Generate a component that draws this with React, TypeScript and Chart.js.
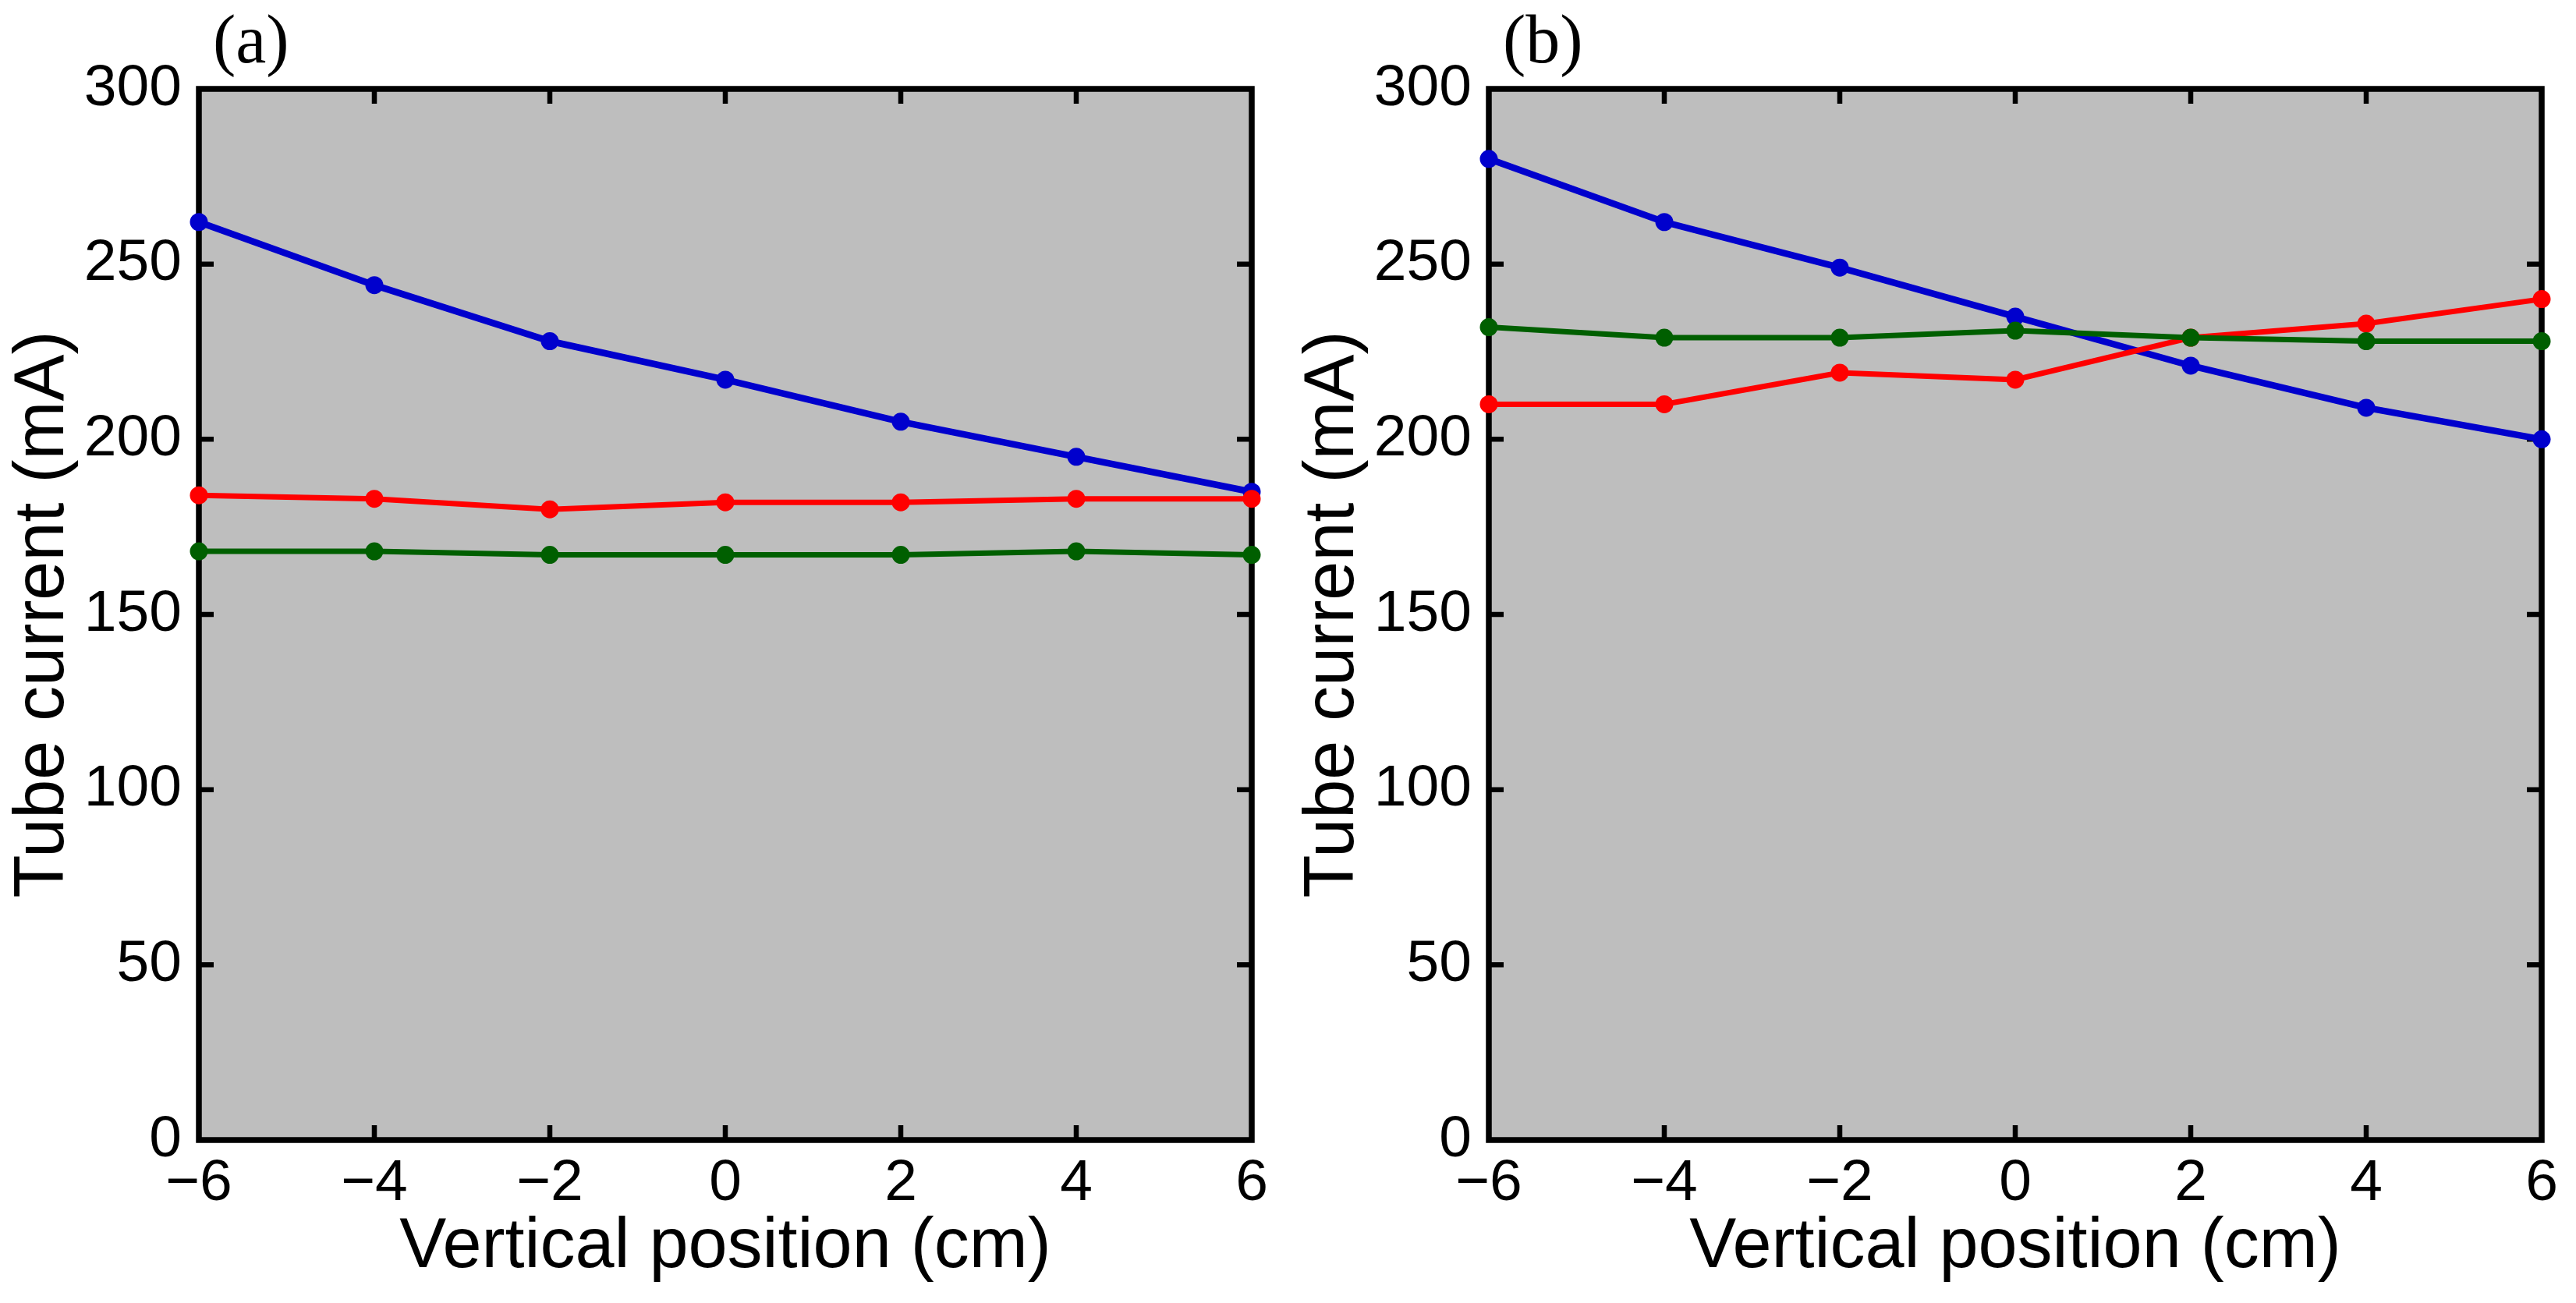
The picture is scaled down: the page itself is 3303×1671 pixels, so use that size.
import React, { useEffect, useRef } from "react";
import { Chart, registerables } from "chart.js";

Chart.register(...registerables);

// vertical position (cm)
const positions = [-6, -4, -2, 0, 2, 4, 6];

// panel (a)
const blueA = [262, 244, 228, 217, 205, 195, 185];
const redA = [184, 183, 180, 182, 182, 183, 183];
const greenA = [168, 168, 167, 167, 167, 168, 167];

// panel (b)
const blueB = [280, 262, 249, 235, 221, 209, 200];
const redB = [210, 210, 219, 217, 229, 233, 240];
const greenB = [232, 229, 229, 231, 229, 228, 228];

const X_MIN = -6;
const X_MAX = 6;
const Y_MIN = 0;
const Y_MAX = 300;

const SANS = "'Liberation Sans', Arial, sans-serif";
const SERIF = "'Liberation Serif', 'Times New Roman', serif";

const BLUE = "#0000cd";
const RED = "#ff0000";
const GREEN = "#005f00";

const CANVAS_W = 1650;
const CANVAS_H = 1671;

const framePlugin = {
  id: "frame",
  beforeDatasetsDraw(chart: any, _args: any, opts: any) {
    const { ctx, chartArea: a, scales } = chart;
    const w = a.right - a.left;
    const h = a.bottom - a.top;
    ctx.save();
    ctx.fillStyle = "#bebebe";
    ctx.fillRect(a.left, a.top, w, h);

    // inward ticks on all four sides
    const tl = 19;
    ctx.strokeStyle = "#000";
    ctx.lineWidth = 6.5;
    ctx.lineCap = "butt";
    ctx.beginPath();
    scales.x.ticks.forEach((t: any) => {
      if (t.value <= X_MIN || t.value >= X_MAX) return;
      const px = scales.x.getPixelForValue(t.value);
      ctx.moveTo(px, a.bottom);
      ctx.lineTo(px, a.bottom - tl);
      ctx.moveTo(px, a.top);
      ctx.lineTo(px, a.top + tl);
    });
    scales.y.ticks.forEach((t: any) => {
      if (t.value <= Y_MIN || t.value >= Y_MAX) return;
      const py = scales.y.getPixelForValue(t.value);
      ctx.moveTo(a.left, py);
      ctx.lineTo(a.left + tl, py);
      ctx.moveTo(a.right, py);
      ctx.lineTo(a.right - tl, py);
    });
    ctx.stroke();

    ctx.lineWidth = 7.5;
    ctx.lineJoin = "miter";
    ctx.strokeRect(a.left, a.top, w, h);

    // panel label
    ctx.fillStyle = "#000";
    ctx.font = `88px ${SERIF}`;
    ctx.textAlign = "left";
    ctx.textBaseline = "alphabetic";
    ctx.fillText(opts.label, a.left + 18, 80);
    ctx.restore();
  },
};

const series = (data: number[], color: string, width: number, order: number) => ({
  data: positions.map((x, i) => ({ x, y: data[i] })),
  borderColor: color,
  backgroundColor: color,
  borderWidth: width,
  pointRadius: 11.5,
  pointBorderWidth: 0,
  pointBackgroundColor: color,
  pointHoverRadius: 11.5,
  tension: 0,
  clip: false as any,
  order,
});

interface PanelProps {
  label: string;
  blue: number[];
  red: number[];
  green: number[];
  left: number;
}

const Panel = (props: PanelProps) => {
  const canvasRef = useRef<HTMLCanvasElement | null>(null);

  useEffect(() => {
    const ctx = canvasRef.current?.getContext("2d");
    if (!ctx) return;

    const chart = new Chart(ctx, {
      type: "line",
      data: {
        datasets: [
          series(props.blue, BLUE, 8.5, 2),
          series(props.red, RED, 7, 1),
          series(props.green, GREEN, 7, 0),
        ],
      },
      options: {
        responsive: false,
        animation: false,
        devicePixelRatio: 1,
        layout: { padding: { top: 114, right: 45, left: 0, bottom: 0 } },
        plugins: {
          legend: { display: false },
          tooltip: { enabled: false },
          frame: { label: props.label },
        } as any,
        scales: {
          x: {
            type: "linear",
            min: X_MIN,
            max: X_MAX,
            grid: { display: false, drawTicks: false },
            border: { display: false },
            ticks: {
              stepSize: 2,
              padding: 11,
              color: "#000",
              font: { family: SANS, size: 75 },
              callback: (v: any) => (v < 0 ? "\u2212" + Math.abs(v) : String(v)),
            },
            title: {
              display: true,
              text: "Vertical position (cm)",
              color: "#000",
              font: { family: SANS, size: 90 },
              padding: { top: 0, bottom: 17 },
            },
            afterFit: (s: any) => {
              s.height = 209;
            },
          },
          y: {
            type: "linear",
            min: Y_MIN,
            max: Y_MAX,
            grid: { display: false, drawTicks: false },
            border: { display: false },
            ticks: {
              stepSize: 50,
              padding: 22,
              color: "#000",
              font: { family: SANS, size: 75 },
            },
            title: {
              display: true,
              text: "Tube current (mA)",
              color: "#000",
              font: { family: SANS, size: 90 },
              padding: { top: 2, bottom: 0 },
            },
            afterFit: (s: any) => {
              s.width = 255;
            },
          },
        },
      },
      plugins: [framePlugin],
    });

    return () => {
      chart.destroy();
    };
  }, []);

  return (
    <canvas
      ref={canvasRef}
      width={CANVAS_W}
      height={CANVAS_H}
      style={{
        position: "absolute",
        left: props.left,
        top: 0,
        width: CANVAS_W,
        height: CANVAS_H,
      }}
    />
  );
};

export default function App() {
  return (
    <div
      style={{
        position: "absolute",
        left: 0,
        top: 0,
        width: 3303,
        height: 1671,
        background: "#fff",
        overflow: "hidden",
      }}
    >
      <Panel label="(a)" blue={blueA} red={redA} green={greenA} left={0} />
      <Panel label="(b)" blue={blueB} red={redB} green={greenB} left={1654} />
    </div>
  );
}
